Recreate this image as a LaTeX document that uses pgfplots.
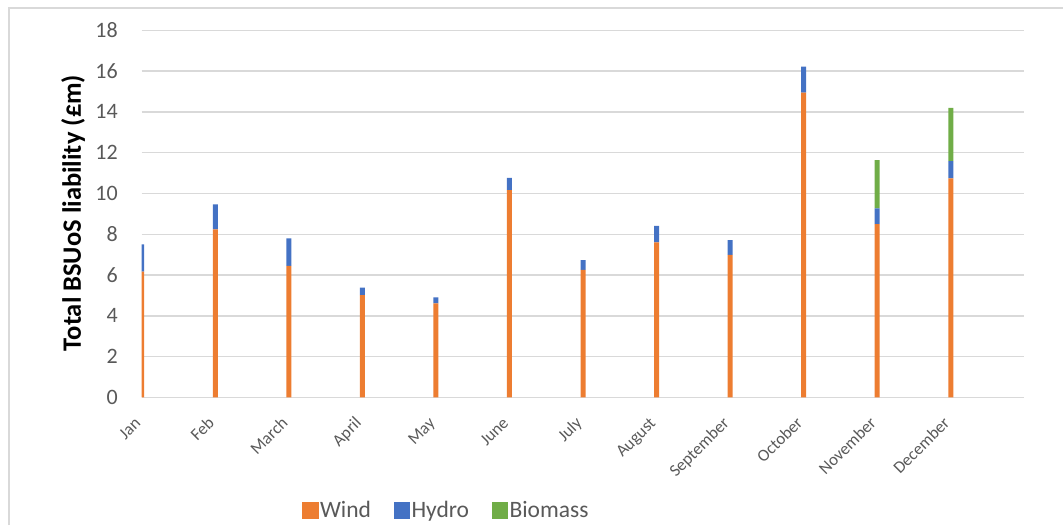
\documentclass[border=0pt]{standalone}
\usepackage{fontspec}
\setmainfont{Carlito}
\usepackage{pgfplots}
\pgfplotsset{compat=1.18}
\definecolor{windc}{HTML}{ED7D31}
\definecolor{hydroc}{HTML}{4472C4}
\definecolor{biomc}{HTML}{70AD47}
\definecolor{gridc}{HTML}{D9D9D9}
\definecolor{textc}{HTML}{595959}

\begin{document}
\begin{tikzpicture}
\path[use as bounding box] (0,0) rectangle (1063pt,525pt);
% chart area frame
\draw[gridc, line width=1.3pt] (9pt,0) -- (9pt,517pt) -- (1063pt,517pt);
\begin{axis}[
  at={(141.7pt,127.5pt)}, anchor=south west,
  scale only axis, width=882.6pt, height=367.2pt,
  xmin=0, xmax=12, ymin=0, ymax=18,
  ybar stacked, bar width=5pt,
  axis line style={draw=none},
  major tick length=0pt,
  ytick={0,2,...,18},
  xtick={0,...,11},
  xticklabels={Jan,Feb,March,April,May,June,July,August,September,October,November,December},
  ymajorgrids, grid style={gridc, line width=1.3pt},
  /pgf/number format/assume math mode=true,
  yticklabel style={font=\fontsize{22}{26}\selectfont, text=textc, anchor=east, inner sep=0pt, xshift=-23.7pt},
  xticklabel shift=26.5pt,
  xticklabel style={font=\fontsize{17}{20}\selectfont, text=textc, inner sep=0pt,
    rotate=45, anchor=base east},
  ylabel={Total BSUoS liability (£m)},
  ylabel style={at={(axis description cs:-0.0778,0.5025)}, anchor=center, font=\bfseries\fontsize{26.5}{30}\selectfont, text=black},
  legend columns=-1,
  legend style={at={(0.3448,-0.3064)}, anchor=center, draw=none,
    font=\fontsize{23.5}{27}\selectfont, text=textc,
    nodes={inner sep=1.5pt},
    /tikz/every even column/.append style={column sep=21pt}},
  legend image code/.code={\fill[#1] (0pt,-8.5pt) rectangle (16.5pt,8.5pt);},
]
% Wind
\addplot[fill=windc, draw=none] coordinates {
  (0,6.17) (1,8.24) (2,6.45) (3,5.02) (4,4.62) (5,10.17)
  (6,6.25) (7,7.61) (8,6.99) (9,14.94) (10,8.50) (11,10.74)};
% Hydro
\addplot[fill=hydroc, draw=none] coordinates {
  (0,1.33) (1,1.23) (2,1.35) (3,0.36) (4,0.29) (5,0.59)
  (6,0.49) (7,0.80) (8,0.73) (9,1.28) (10,0.77) (11,0.85)};
% Biomass
\addplot[fill=biomc, draw=none] coordinates {
  (0,0) (1,0) (2,0) (3,0) (4,0) (5,0)
  (6,0) (7,0) (8,0) (9,0) (10,2.37) (11,2.61)};
\legend{Wind,Hydro,Biomass}
\end{axis}
\end{tikzpicture}
\end{document}
